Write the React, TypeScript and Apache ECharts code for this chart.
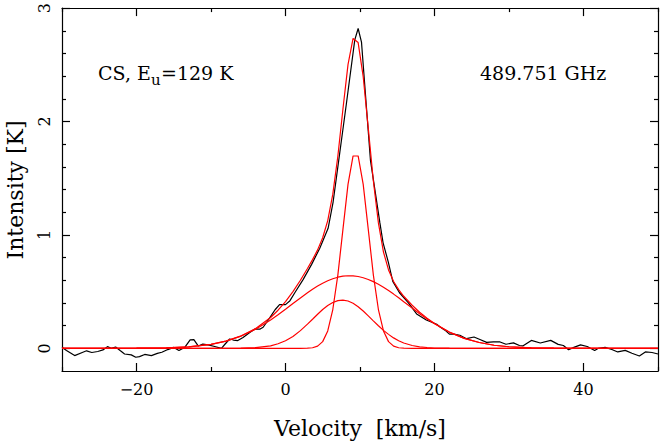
import React, { useEffect, useRef } from 'react';
import * as echarts from 'echarts';

// Observed spectrum (black)
const spectrumVelocity = [
  -30.0, -29.4, -28.3, -27.2, -26.7, -26.0, -25.2, -24.5, -23.9, -23.4,
  -22.8, -22.2, -21.6, -20.7, -20.1, -19.6, -18.9, -18.0, -17.2, -16.6,
  -15.8, -15.0, -14.3, -13.5, -12.8, -12.3, -11.7, -11.1, -10.4, -9.5,
  -8.6, -8.1, -7.5, -7.0, -6.4, -5.7, -4.8, -4.1, -3.4, -3.0,
  -2.1, -1.4, -0.8, 0.0, 0.6, 1.25, 2.36, 3.49, 4.6, 5.72,
  6.39, 7.29, 8.19, 9.3, 9.75, 10.2, 11.4, 12.66, 13.1, 13.8,
  14.4, 15.3, 16.5, 17.6, 18.9, 20.3, 20.7, 21.4, 22.0, 22.6,
  23.4, 24.3, 25.3, 26.1, 27.0, 27.9, 28.8, 29.6, 30.6, 31.4,
  31.9, 33.0, 34.2, 35.6, 36.6, 37.3, 38.0, 38.7, 39.6, 40.5,
  41.5, 42.0, 42.9, 43.8, 44.6, 45.6, 46.5, 47.5, 48.3, 49.2, 50.0,
];
const spectrumIntensity = [
  0.01, -0.02, -0.064, -0.035, -0.022, -0.037, -0.028, -0.014, 0.015, 0.0,
  0.012, -0.02, -0.05, -0.058, -0.079, -0.073, -0.054, -0.064, -0.045, -0.035,
  -0.011, 0.008, -0.02, 0.01, 0.075, 0.076, 0.02, 0.037, 0.03, 0.016,
  0.0, 0.038, 0.082, 0.073, 0.068, 0.096, 0.14, 0.17, 0.17, 0.186,
  0.27, 0.34, 0.385, 0.385, 0.42, 0.49, 0.606, 0.738, 0.883, 1.058,
  1.29, 1.728, 2.165, 2.72, 2.82, 2.7, 1.66, 1.11, 0.93, 0.76,
  0.59, 0.49, 0.4, 0.303, 0.25, 0.212, 0.19, 0.16, 0.125, 0.125,
  0.115, 0.085, 0.1, 0.078, 0.052, 0.057, 0.056, 0.036, 0.048, 0.025,
  0.022, 0.07, 0.047, 0.07, 0.035, 0.025, -0.012, 0.008, 0.03, 0.016,
  -0.02, 0.0, 0.008, -0.01, -0.032, -0.018, -0.044, -0.068, -0.032, -0.037, -0.05,
];

// Fitted components (red)
const fitVelocity = [
  -30, -20, -16, -13, -10, -8, -6, -4, -2, -1, 0, 1, 2,
  2.95, 3.63, 4.31, 4.99, 5.67, 6.35, 7.03, 7.71, 8.39, 9.07, 9.75, 10.43,
  11.11, 11.79, 12.47, 13.15, 13.83, 14.51, 15.19, 15.87,
  17, 18, 19, 20, 22, 24, 26, 28, 30, 33, 36, 40, 50,
];
const fitBroad = [
  0, 0.001, 0.004, 0.013, 0.035, 0.064, 0.107, 0.169, 0.25, 0.296, 0.345, 0.395, 0.444,
  0.49, 0.521, 0.549, 0.574, 0.596, 0.613, 0.627, 0.636, 0.64, 0.639, 0.633, 0.622,
  0.607, 0.588, 0.565, 0.538, 0.509, 0.478, 0.445, 0.411,
  0.355, 0.305, 0.259, 0.216, 0.142, 0.088, 0.051, 0.027, 0.014, 0.004, 0.001, 0, 0,
];
const fitMedium = [
  0, 0, 0, 0, 0, 0, 0.001, 0.006, 0.022, 0.04, 0.067, 0.105, 0.156,
  0.213, 0.256, 0.3, 0.342, 0.377, 0.404, 0.421, 0.425, 0.417, 0.397, 0.367, 0.329,
  0.286, 0.242, 0.199, 0.158, 0.123, 0.092, 0.067, 0.047,
  0.025, 0.013, 0.007, 0.003, 0.001, 0, 0, 0, 0, 0, 0, 0, 0,
];
const fitNarrow = [
  0, 0, 0, 0, 0, 0, 0, 0, 0, 0, 0, 0, 0,
  0.001, 0.005, 0.019, 0.059, 0.153, 0.342, 0.648, 1.049, 1.445, 1.696, 1.696, 1.445,
  1.049, 0.648, 0.342, 0.153, 0.059, 0.019, 0.005, 0.001,
  0, 0, 0, 0, 0, 0, 0, 0, 0, 0, 0, 0, 0,
];

const xMajorTicks = [-20, 0, 20, 40];
const xMinorTicks = [-30, -10, 10, 30, 50];
const yMajorTicks = [0, 1, 2, 3];
const yMinorTicks = [0.2, 0.4, 0.6, 0.8, 1.2, 1.4, 1.6, 1.8, 2.2, 2.4, 2.6, 2.8];

const FONT = '"DejaVu Serif", serif';
const AXIS_COLOR = '#000';

function xAxisDef(position: string, ticks: number[], len: number, showLine: boolean, showLabels: boolean) {
  return {
    type: 'value',
    position,
    min: -30,
    max: 50,
    interval: 10,
    axisLine: { show: showLine, onZero: false, lineStyle: { color: AXIS_COLOR, width: 1.2 } },
    axisTick: { show: true, inside: true, length: len, customValues: ticks, lineStyle: { color: AXIS_COLOR, width: 1.2 } },
    axisLabel: showLabels
      ? {
          show: true,
          customValues: ticks,
          color: '#000',
          fontFamily: FONT,
          fontSize: 16,
          margin: 10,
          formatter: (v: number) => (v < 0 ? '\u2212' + Math.abs(v) : String(v)),
        }
      : { show: false },
    splitLine: { show: false },
  };
}

function yAxisDef(position: string, ticks: number[], len: number, showLine: boolean, showLabels: boolean) {
  return {
    type: 'value',
    position,
    min: -0.2,
    max: 3,
    axisLine: { show: showLine, onZero: false, lineStyle: { color: AXIS_COLOR, width: 1.2 } },
    axisTick: { show: true, inside: true, length: len, customValues: ticks, lineStyle: { color: AXIS_COLOR, width: 1.2 } },
    axisLabel: showLabels
      ? {
          show: true,
          customValues: ticks,
          rotate: 90,
          color: '#000',
          fontFamily: FONT,
          fontSize: 16,
          margin: 10,
          formatter: (v: number) => String(v),
        }
      : { show: false },
    splitLine: { show: false },
  };
}

export default function App() {
  const ref = useRef<HTMLDivElement>(null);

  useEffect(() => {
    if (!ref.current) return;
    const chart = echarts.init(ref.current, undefined, { renderer: 'svg' });

    const spectrum = spectrumVelocity.map((v, i) => [v, spectrumIntensity[i]]);
    const broad = fitVelocity.map((v, i) => [v, fitBroad[i]]);
    const medium = fitVelocity.map((v, i) => [v, fitMedium[i]]);
    const narrow = fitVelocity.map((v, i) => [v, fitNarrow[i]]);
    const total = fitVelocity.map((v, i) => [v, fitBroad[i] + fitMedium[i] + fitNarrow[i]]);

    const redLine = { color: '#ff0000', width: 1.2 };

    chart.setOption({
      animation: false,
      backgroundColor: '#fff',
      grid: { left: 62, right: 2, top: 5, bottom: 71, containLabel: false },
      xAxis: [
        xAxisDef('bottom', xMajorTicks, 8, true, true),
        xAxisDef('bottom', xMinorTicks, 4, false, false),
        xAxisDef('top', xMajorTicks, 8, true, false),
        xAxisDef('top', xMinorTicks, 4, false, false),
      ],
      yAxis: [
        yAxisDef('left', yMajorTicks, 8, true, true),
        yAxisDef('left', yMinorTicks, 4, false, false),
        yAxisDef('right', yMajorTicks, 8, true, false),
        yAxisDef('right', yMinorTicks, 4, false, false),
      ],
      series: [
        {
          type: 'line',
          name: 'spectrum',
          data: spectrum,
          showSymbol: false,
          symbol: 'none',
          lineStyle: { color: '#000', width: 1.2 },
          z: 2,
        },
        { type: 'line', name: 'broad', data: broad, symbol: 'none', lineStyle: redLine, z: 3 },
        { type: 'line', name: 'medium', data: medium, symbol: 'none', lineStyle: redLine, z: 3 },
        { type: 'line', name: 'narrow', data: narrow, symbol: 'none', lineStyle: redLine, z: 3 },
        { type: 'line', name: 'total', data: total, symbol: 'none', lineStyle: redLine, z: 3 },
      ],
      graphic: [
        {
          type: 'text',
          x: 98,
          y: 73,
          style: { text: 'CS, E', fontFamily: FONT, fontSize: 19, fill: '#000', align: 'left', verticalAlign: 'middle', textAlign: 'left', textVerticalAlign: 'middle' },
        },
        {
          type: 'text',
          x: 151,
          y: 80,
          style: { text: 'u', fontFamily: FONT, fontSize: 15, fill: '#000', align: 'left', verticalAlign: 'middle', textAlign: 'left', textVerticalAlign: 'middle' },
        },
        {
          type: 'text',
          x: 161,
          y: 73,
          style: { text: '=129 K', fontFamily: FONT, fontSize: 19, fill: '#000', align: 'left', verticalAlign: 'middle', textAlign: 'left', textVerticalAlign: 'middle' },
        },
        {
          type: 'text',
          x: 480,
          y: 73,
          style: { text: '489.751 GHz', fontFamily: FONT, fontSize: 19, fill: '#000', align: 'left', verticalAlign: 'middle', textAlign: 'left', textVerticalAlign: 'middle' },
        },
        {
          type: 'text',
          x: 360,
          y: 428,
          style: { text: 'Velocity  [km/s]', fontFamily: FONT, fontSize: 22, fill: '#000', align: 'center', verticalAlign: 'middle', textAlign: 'center', textVerticalAlign: 'middle' },
        },
        {
          type: 'text',
          x: 15,
          y: 190,
          rotation: Math.PI / 2,
          style: { text: 'Intensity [K]', fontFamily: FONT, fontSize: 22, fill: '#000', align: 'center', verticalAlign: 'middle', textAlign: 'center', textVerticalAlign: 'middle' },
        },
      ],
    });

    return () => {
      chart.dispose();
    };
  }, []);

  return (
    <div
      ref={ref}
      style={{ position: 'absolute', left: 0, top: 0, width: 660, height: 442 }}
    />
  );
}
